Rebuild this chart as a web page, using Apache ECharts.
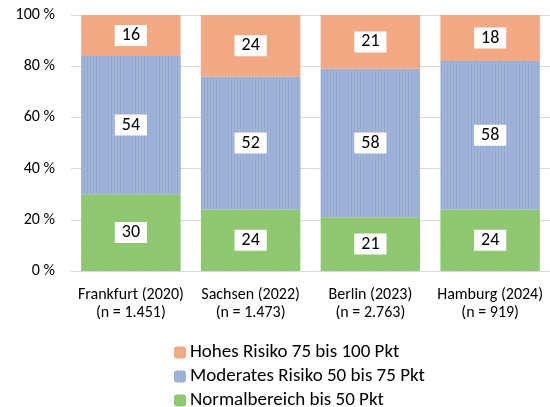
<!DOCTYPE html>
<html>
<head>
<meta charset="utf-8">
<script src="https://cdn.jsdelivr.net/npm/echarts@6/dist/echarts.min.js"></script>
<style>
  html, body { margin: 0; padding: 0; background: #fff; }
  #chart { width: 550px; height: 407px; }
</style>
</head>
<body>
<div id="chart"></div>
<script>
const categories = ['Frankfurt (2020)\n(n = 1.451)', 'Sachsen (2022)\n(n = 1.473)', 'Berlin (2023)\n(n = 2.763)', 'Hamburg (2024)\n(n = 919)'];
const normal = [30, 24, 21, 24];
const moderat = [54, 52, 58, 58];
const hoch = [16, 24, 21, 18];
const yTicks = [0, 20, 40, 60, 80, 100];

const fontFam = 'Carlito, "Liberation Sans", "Open Sans", sans-serif';

var chartDom = document.getElementById('chart');
var myChart = echarts.init(chartDom);

function barLabel() {
  return {
    show: true,
    position: 'inside',
    color: '#000',
    fontSize: 18,
    fontFamily: fontFam,
    backgroundColor: '#fff',
    padding: [2, 7, 1, 7],
    formatter: '{c}'
  };
}

var option = {
  animation: false,
  textStyle: { fontFamily: fontFam },
  grid: { left: 71, right: -1, top: 15, bottom: 136 },
  legend: {
    orient: 'vertical',
    left: 174,
    top: 343,
    height: 100,
    padding: 0,
    itemWidth: 12,
    itemHeight: 12,
    itemGap: 5,
    textStyle: { fontSize: 19, color: '#000', fontFamily: fontFam, padding: [0, 0, 0, -1] },
    data: ['Hohes Risiko 75 bis 100 Pkt', 'Moderates Risiko 50 bis 75 Pkt', 'Normalbereich bis 50 Pkt']
  },
  xAxis: {
    type: 'category',
    data: categories,
    axisLine: { show: true, lineStyle: { color: '#d9d9d9' } },
    axisTick: { show: false },
    axisLabel: { interval: 0, color: '#000', fontSize: 16, lineHeight: 18, margin: 15, fontFamily: fontFam }
  },
  yAxis: {
    type: 'value',
    min: 0,
    max: 100,
    interval: 20,
    axisLine: { show: false },
    axisTick: { show: false },
    splitLine: { lineStyle: { color: '#d9d9d9', width: 1 } },
    axisLabel: {
      color: '#000', fontSize: 16, margin: 16, fontFamily: fontFam,
      formatter: function (v) { return yTicks.indexOf(v) >= 0 ? v + ' %' : ''; }
    }
  },
  series: [
    {
      name: 'Normalbereich bis 50 Pkt',
      type: 'bar',
      stack: 'a',
      barWidth: '83%',
      data: normal,
      itemStyle: {
        color: '#8fc970',
        decal: { symbol: 'rect', symbolSize: 0.5, dashArrayX: [1, 0], dashArrayY: [2, 2], rotation: Math.PI / 4, color: 'rgba(120,180,90,0.35)' }
      },
      label: barLabel()
    },
    {
      name: 'Moderates Risiko 50 bis 75 Pkt',
      type: 'bar',
      stack: 'a',
      data: moderat,
      itemStyle: {
        color: '#a1b4d9',
        decal: { symbol: 'rect', symbolSize: 1, dashArrayX: [[1, 2]], dashArrayY: [1, 0], rotation: 0, color: 'rgba(130,150,195,0.45)' }
      },
      label: barLabel()
    },
    {
      name: 'Hohes Risiko 75 bis 100 Pkt',
      type: 'bar',
      stack: 'a',
      data: hoch,
      itemStyle: {
        color: '#f3a984',
        decal: { symbol: 'circle', symbolSize: 0.6, dashArrayX: [2, 2], dashArrayY: [2, 2], color: 'rgba(230,150,110,0.4)' }
      },
      label: barLabel()
    }
  ]
};

myChart.setOption(option);
</script>
</body>
</html>
